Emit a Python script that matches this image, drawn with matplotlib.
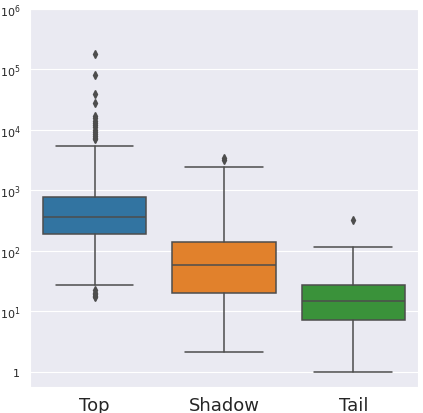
import matplotlib
matplotlib.use("Agg")
import matplotlib.pyplot as plt
import matplotlib.ticker as mticker
import seaborn as sns

# ======================================
categories = ["Top", "Shadow", "Tail"]
colors = ["#3274a1", "#e1812c", "#3a923a"]

q1 = [190, 20.3, 7.1]
med = [363, 57.6, 14.5]
q3 = [775, 140, 27]
whislo = [27.5, 2.08, 1.0]
whishi = [5400, 2450, 117]
fliers = [
    [183000, 80000, 39000, 27500, 17000, 15500, 14000, 13000, 12000, 11000,
     10000, 9300, 8600, 8000, 7400, 7000, 22, 20, 19, 18, 17],
    [3200, 3400],
    [320],
]
# ======================================

sns.set_style("darkgrid")

stats = []
for i, name in enumerate(categories):
    stats.append(dict(label=name, q1=q1[i], med=med[i], q3=q3[i],
                      whislo=whislo[i], whishi=whishi[i], fliers=fliers[i]))

line_c = "#4d4d4d"
fig = plt.figure(figsize=(4.23, 4.14), dpi=100)
ax = fig.add_axes([0.071, 0.0635, 0.917, 0.9125])
bp = ax.bxp(stats, positions=range(len(categories)), widths=0.8,
            patch_artist=True,
            boxprops=dict(edgecolor=line_c, linewidth=1.1),
            medianprops=dict(color=line_c, linewidth=1.1),
            whiskerprops=dict(color=line_c, linewidth=1.1),
            capprops=dict(color=line_c, linewidth=1.1),
            flierprops=dict(marker="d", markersize=4, markerfacecolor=line_c,
                            markeredgecolor=line_c, linestyle="none"))
for box, c in zip(bp["boxes"], colors):
    box.set_facecolor(c)
for cap in bp["caps"]:
    x = cap.get_xdata()
    m = x.mean()
    cap.set_xdata([m - 0.3, m + 0.3])

ax.set_yscale("log")
ax.set_ylim(10 ** -0.25, 1e6)
ax.set_xlim(-0.5, 2.5)
ax.yaxis.set_major_locator(mticker.FixedLocator([1, 10, 100, 1e3, 1e4, 1e5, 1e6]))
ax.yaxis.set_minor_locator(mticker.NullLocator())
ax.set_yticklabels(["1", r"$10^{1}$", r"$10^{2}$", r"$10^{3}$", r"$10^{4}$",
                    r"$10^{5}$", r"$10^{6}$"])
ax.set_xticks(range(len(categories)))
ax.set_xticklabels(categories, fontsize=13)
ax.tick_params(axis="y", labelsize=8)
ax.grid(axis="x", visible=False)
plt.savefig("out.png", dpi=100)
